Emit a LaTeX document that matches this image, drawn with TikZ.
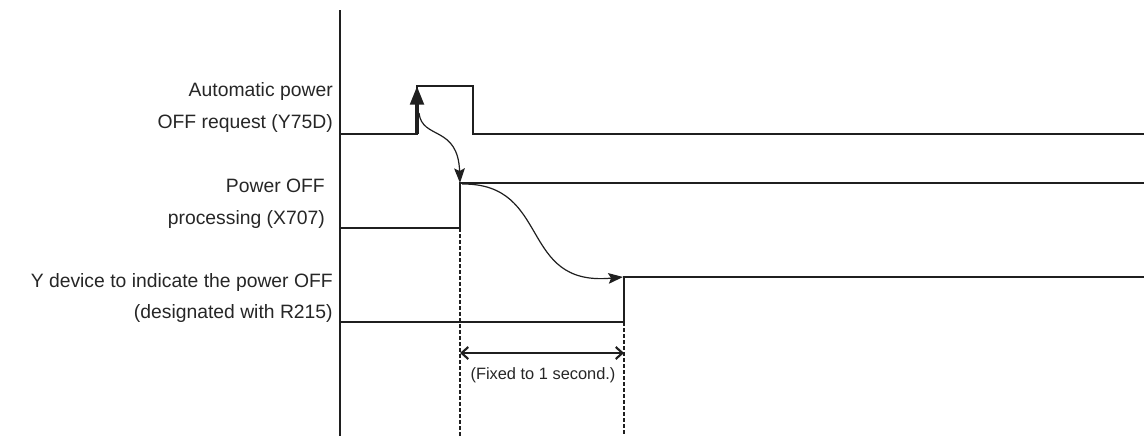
\documentclass[tikz,border=0pt]{standalone}
\usepackage{fontspec}
\setmainfont{Liberation Sans}
\usetikzlibrary{arrows.meta,positioning}

\begin{document}
\begin{tikzpicture}[x=0.75pt,y=0.75pt,yscale=-1,xscale=1,
	sig/.style={line width=1.6,color=black!88},
	lbl/.style={anchor=base east,inner sep=0pt,text=black!85,font=\fontsize{14.5}{18}\selectfont},
	cause/.style={line width=0.9,color=black!88,-{Stealth[length=11pt,width=8pt,inset=2pt]}},
	guide/.style={line width=0.8,color=black!88,dash pattern={on 3pt off 1.5pt}}]
	\useasboundingbox (0,0) rectangle (1144,436);
	
	%Axis 
	\draw [line width=1.1,color=black!88]  (340,10) -- (340,436) ;
	
	% Text Node
	\node [lbl] (reqA) at (333,96) {Automatic power};
	\node [lbl] (reqB) at (333,128) {OFF request (Y75D)};
	\node [lbl] (procA) at (325,192) {Power OFF};
	\node [lbl] (procB) at (325,224) {processing (X707)};
	\node [lbl] (ydevA) at (333,287) {Y device to indicate the power OFF};
	\node [lbl] (ydevB) at (333,318) {(designated with R215)};
	
	%Edges of the signals
	\coordinate (reqLow) at (417,134);
	\coordinate (reqHigh) at (417,86);
	\coordinate (reqStart) at (419,113);
	\coordinate (procUp) at (460,183);
	\coordinate (ydevUp) at (623,277);
	
	%Signal: Y75D
	\draw [sig]  (340,134) -- (reqLow) -- (reqHigh) -- (473,86) -- (473,134) -- (1144,134) ;
	\draw [line width=3,color=black!88,-{Triangle[length=14pt,width=10pt]}]  (reqLow) -- (reqHigh) ;
	%Signal: X707
	\draw [sig]  (340,228) -- (460,228) -- (procUp) -- (1144,183) ;
	%Signal: R215
	\draw [sig]  (340,322) -- (624,322) -- (624,277) -- (1144,277) ;
	
	%Curved arrows
	\draw [cause]  (reqStart) .. controls (422,140) and (458,125) .. (procUp) ;
	\draw [cause]  (462,184) .. controls (552,183) and (518,287) .. (ydevUp) ;
	
	%Dashed guides
	\draw [guide]  (460,228) -- (460,436) ;
	\draw [guide]  (624,322) -- (624,436) ;
	\coordinate (spanL) at (460,353);
	\coordinate (spanR) at (624,353);
	\draw [line width=1.6,color=black!88,{Straight Barb[length=5pt,width=9pt]}-{Straight Barb[length=5pt,width=9pt]}]  (spanL) -- (spanR) ;
	
	% Text Node
	\node [anchor=base,inner sep=0pt,text=black!85,font=\fontsize{12.3}{14}\selectfont] (fixed) at (543,379) {(Fixed to 1 second.)};
	
\end{tikzpicture}
\end{document}
